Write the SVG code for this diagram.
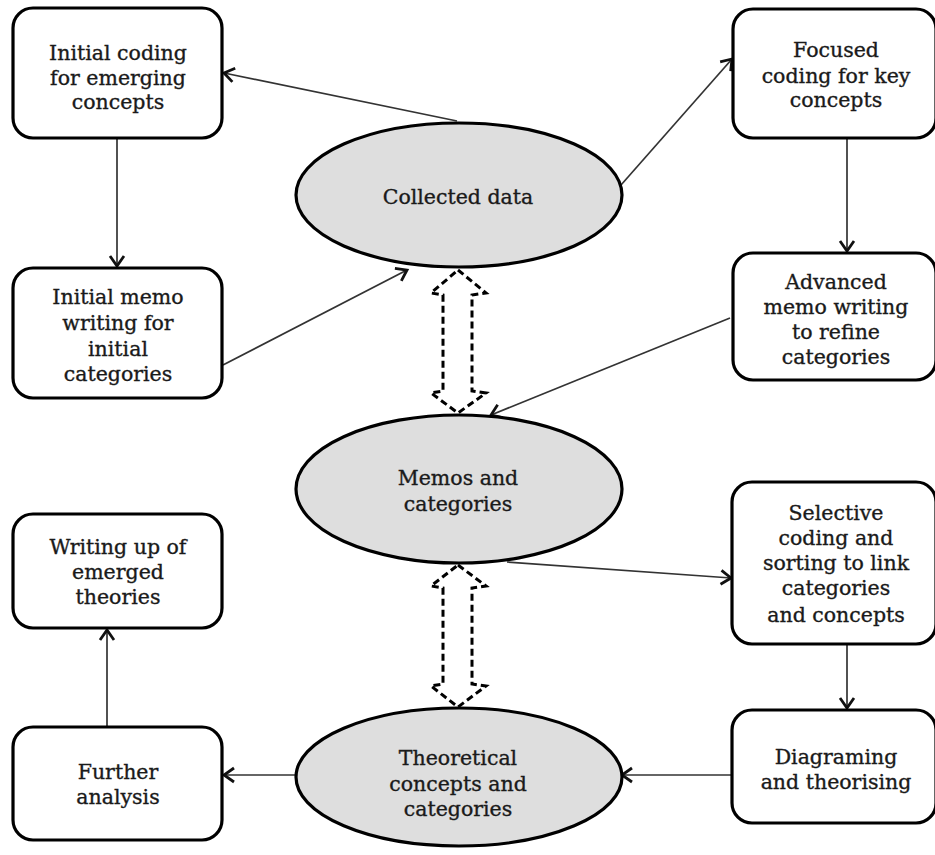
<svg xmlns="http://www.w3.org/2000/svg" width="935" height="855" viewBox="0 0 935 855">
  <defs>
    <marker id="open" markerUnits="userSpaceOnUse" markerWidth="20" markerHeight="20" viewBox="-14 -10 18 20" refX="0" refY="0" orient="auto">
      <path d="M-10,-7 L0,0 L-10,7" fill="none" stroke="#111" stroke-width="2.8" stroke-linejoin="miter"/>
    </marker>
  </defs>
  <style>
    .box { fill: #fff; stroke: #000; stroke-width: 3.2; }
    .oval { fill: #dedede; stroke: #000; stroke-width: 3.2; }
    .lbl { font-family: "DejaVu Serif", "Liberation Serif", serif; font-size: 20.5px; fill: #1a1a1a; stroke: #1a1a1a; stroke-width: 0.35; text-anchor: middle; }
    .link { stroke: #333; stroke-width: 1.7; fill: none; marker-end: url(#open); }
    .dual { fill: none; stroke: #000; stroke-width: 3; stroke-dasharray: 7 4; }
  </style>
  <rect width="935" height="855" fill="#fff"/>

  <!-- connectors -->
  <g id="connectors">
    <line class="link" x1="457" y1="121" x2="224" y2="73"/>
    <line class="link" x1="621" y1="185" x2="732" y2="59"/>
    <line class="link" x1="117" y1="139" x2="117" y2="266"/>
    <line class="link" x1="223" y1="365" x2="407" y2="270"/>
    <line class="link" x1="847" y1="139" x2="847" y2="251"/>
    <line class="link" x1="730" y1="318" x2="491" y2="415"/>
    <line class="link" x1="507" y1="562" x2="731" y2="578"/>
    <line class="link" x1="847" y1="645" x2="847" y2="708"/>
    <line class="link" x1="732" y1="775" x2="622" y2="775"/>
    <line class="link" x1="296" y1="775" x2="224" y2="775"/>
    <line class="link" x1="107" y1="727" x2="107" y2="630"/>
    <path class="dual" d="M458,270 L486,293 L472,295 L472,391 L486,393 L458,413 L431,393 L443,391 L443,295 L431,293 Z"/>
    <path class="dual" d="M458,565 L486,586 L472,588 L472,684 L486,686 L458,707 L431,686 L443,684 L443,588 L431,586 Z"/>
  </g>

  <!-- ovals -->
  <g id="collected">
    <ellipse class="oval" cx="459" cy="195" rx="163" ry="72"/>
    <text class="lbl" x="458" y="204">Collected data</text>
  </g>
  <g id="memos">
    <ellipse class="oval" cx="459" cy="489" rx="163" ry="74"/>
    <text class="lbl" x="458" y="485">Memos and</text>
    <text class="lbl" x="458" y="511">categories</text>
  </g>
  <g id="theoretical">
    <ellipse class="oval" cx="459" cy="777" rx="163" ry="69"/>
    <text class="lbl" x="458" y="765">Theoretical</text>
    <text class="lbl" x="458" y="791">concepts and</text>
    <text class="lbl" x="458" y="816">categories</text>
  </g>

  <!-- left column -->
  <g id="initial-coding">
    <rect class="box" x="13" y="8" width="209" height="130" rx="20"/>
    <text class="lbl" x="118" y="60">Initial coding</text>
    <text class="lbl" x="118" y="85">for emerging</text>
    <text class="lbl" x="118" y="109">concepts</text>
  </g>
  <g id="initial-memo">
    <rect class="box" x="13" y="268" width="209" height="130" rx="20"/>
    <text class="lbl" x="118" y="304">Initial memo</text>
    <text class="lbl" x="118" y="330">writing for</text>
    <text class="lbl" x="118" y="356">initial</text>
    <text class="lbl" x="118" y="381">categories</text>
  </g>
  <g id="writing-up">
    <rect class="box" x="13" y="514" width="209" height="114" rx="20"/>
    <text class="lbl" x="118" y="554">Writing up of</text>
    <text class="lbl" x="118" y="579">emerged</text>
    <text class="lbl" x="118" y="604">theories</text>
  </g>
  <g id="further">
    <rect class="box" x="13" y="727" width="209" height="113" rx="20"/>
    <text class="lbl" x="118" y="779">Further</text>
    <text class="lbl" x="118" y="804">analysis</text>
  </g>

  <!-- right column -->
  <g id="focused">
    <rect class="box" x="733" y="9" width="203" height="129" rx="20"/>
    <text class="lbl" x="836" y="57">Focused</text>
    <text class="lbl" x="836" y="83">coding for key</text>
    <text class="lbl" x="836" y="107">concepts</text>
  </g>
  <g id="advanced">
    <rect class="box" x="733" y="253" width="203" height="127" rx="20"/>
    <text class="lbl" x="836" y="289">Advanced</text>
    <text class="lbl" x="836" y="314">memo writing</text>
    <text class="lbl" x="836" y="339">to refine</text>
    <text class="lbl" x="836" y="364">categories</text>
  </g>
  <g id="selective">
    <rect class="box" x="732" y="482" width="204" height="162" rx="20"/>
    <text class="lbl" x="836" y="520">Selective</text>
    <text class="lbl" x="836" y="545">coding and</text>
    <text class="lbl" x="836" y="570">sorting to link</text>
    <text class="lbl" x="836" y="595">categories</text>
    <text class="lbl" x="836" y="622">and concepts</text>
  </g>
  <g id="diagraming">
    <rect class="box" x="732" y="710" width="204" height="113" rx="20"/>
    <text class="lbl" x="836" y="764">Diagraming</text>
    <text class="lbl" x="836" y="789">and theorising</text>
  </g>
</svg>
